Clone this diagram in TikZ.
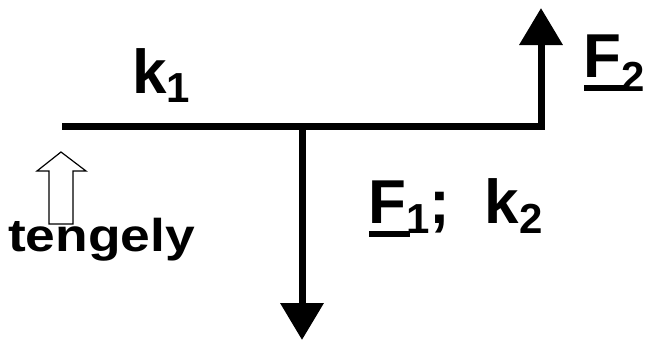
\documentclass[tikz,border=0pt]{standalone}
\usepackage{fontspec}
\setmainfont{Liberation Sans}
\usepackage{tikz}
\usetikzlibrary{arrows.meta}
\newcommand\lowidx[2][10pt]{\raisebox{-#1}{\fontsize{42}{42}\selectfont #2}}
\newcommand\barred[1]{\setbox0\hbox{#1}\rlap{\rule[-14pt]{\dimexpr\wd0+3pt\relax}{6pt}}\box0}

\begin{document}
\begin{tikzpicture}[
    x=1pt, y=-1pt,
    arrow/.style={line width=7pt, -{Triangle[length=37pt, width=42pt]}},
    symtext/.style={anchor=base west, inner sep=0pt, font=\fontsize{62}{62}\selectfont\bfseries}
  ]
    \useasboundingbox (0,0) rectangle (647,341);
    \coordinate (left) at (62,126.5);
    \coordinate (corner) at (541,126.5);
    \coordinate (mid) at (302,126.5);
    \coordinate (top) at (541,8);
    \coordinate (bottom) at (302,340);
    \draw[arrow] (left) -- (corner) -- (top);
    \draw[arrow] (mid) -- (bottom);
    % hollow arrow
    \draw[line width=1.2pt, fill=white] (61,152) -- (86,171) -- (73,171) -- (73,224)
      -- (49,224) -- (49,171) -- (37,171) -- cycle;
    \node[symtext] (k1) at (132,93) {k\lowidx[9pt]{1}};
    \node[symtext] (f2) at (583.5,77) {\barred{F}\lowidx[14pt]{2}};
    \node[symtext] (f1k2) at (368.5,223) {\barred{F}\lowidx{1}; \ k\lowidx{2}};
    \node[anchor=base west, inner sep=0pt, font=\fontsize{46}{46}\selectfont\bfseries]
      (axis) at (8,251) {\scalebox{1.16}[1]{tengely}};
\end{tikzpicture}
\end{document}
